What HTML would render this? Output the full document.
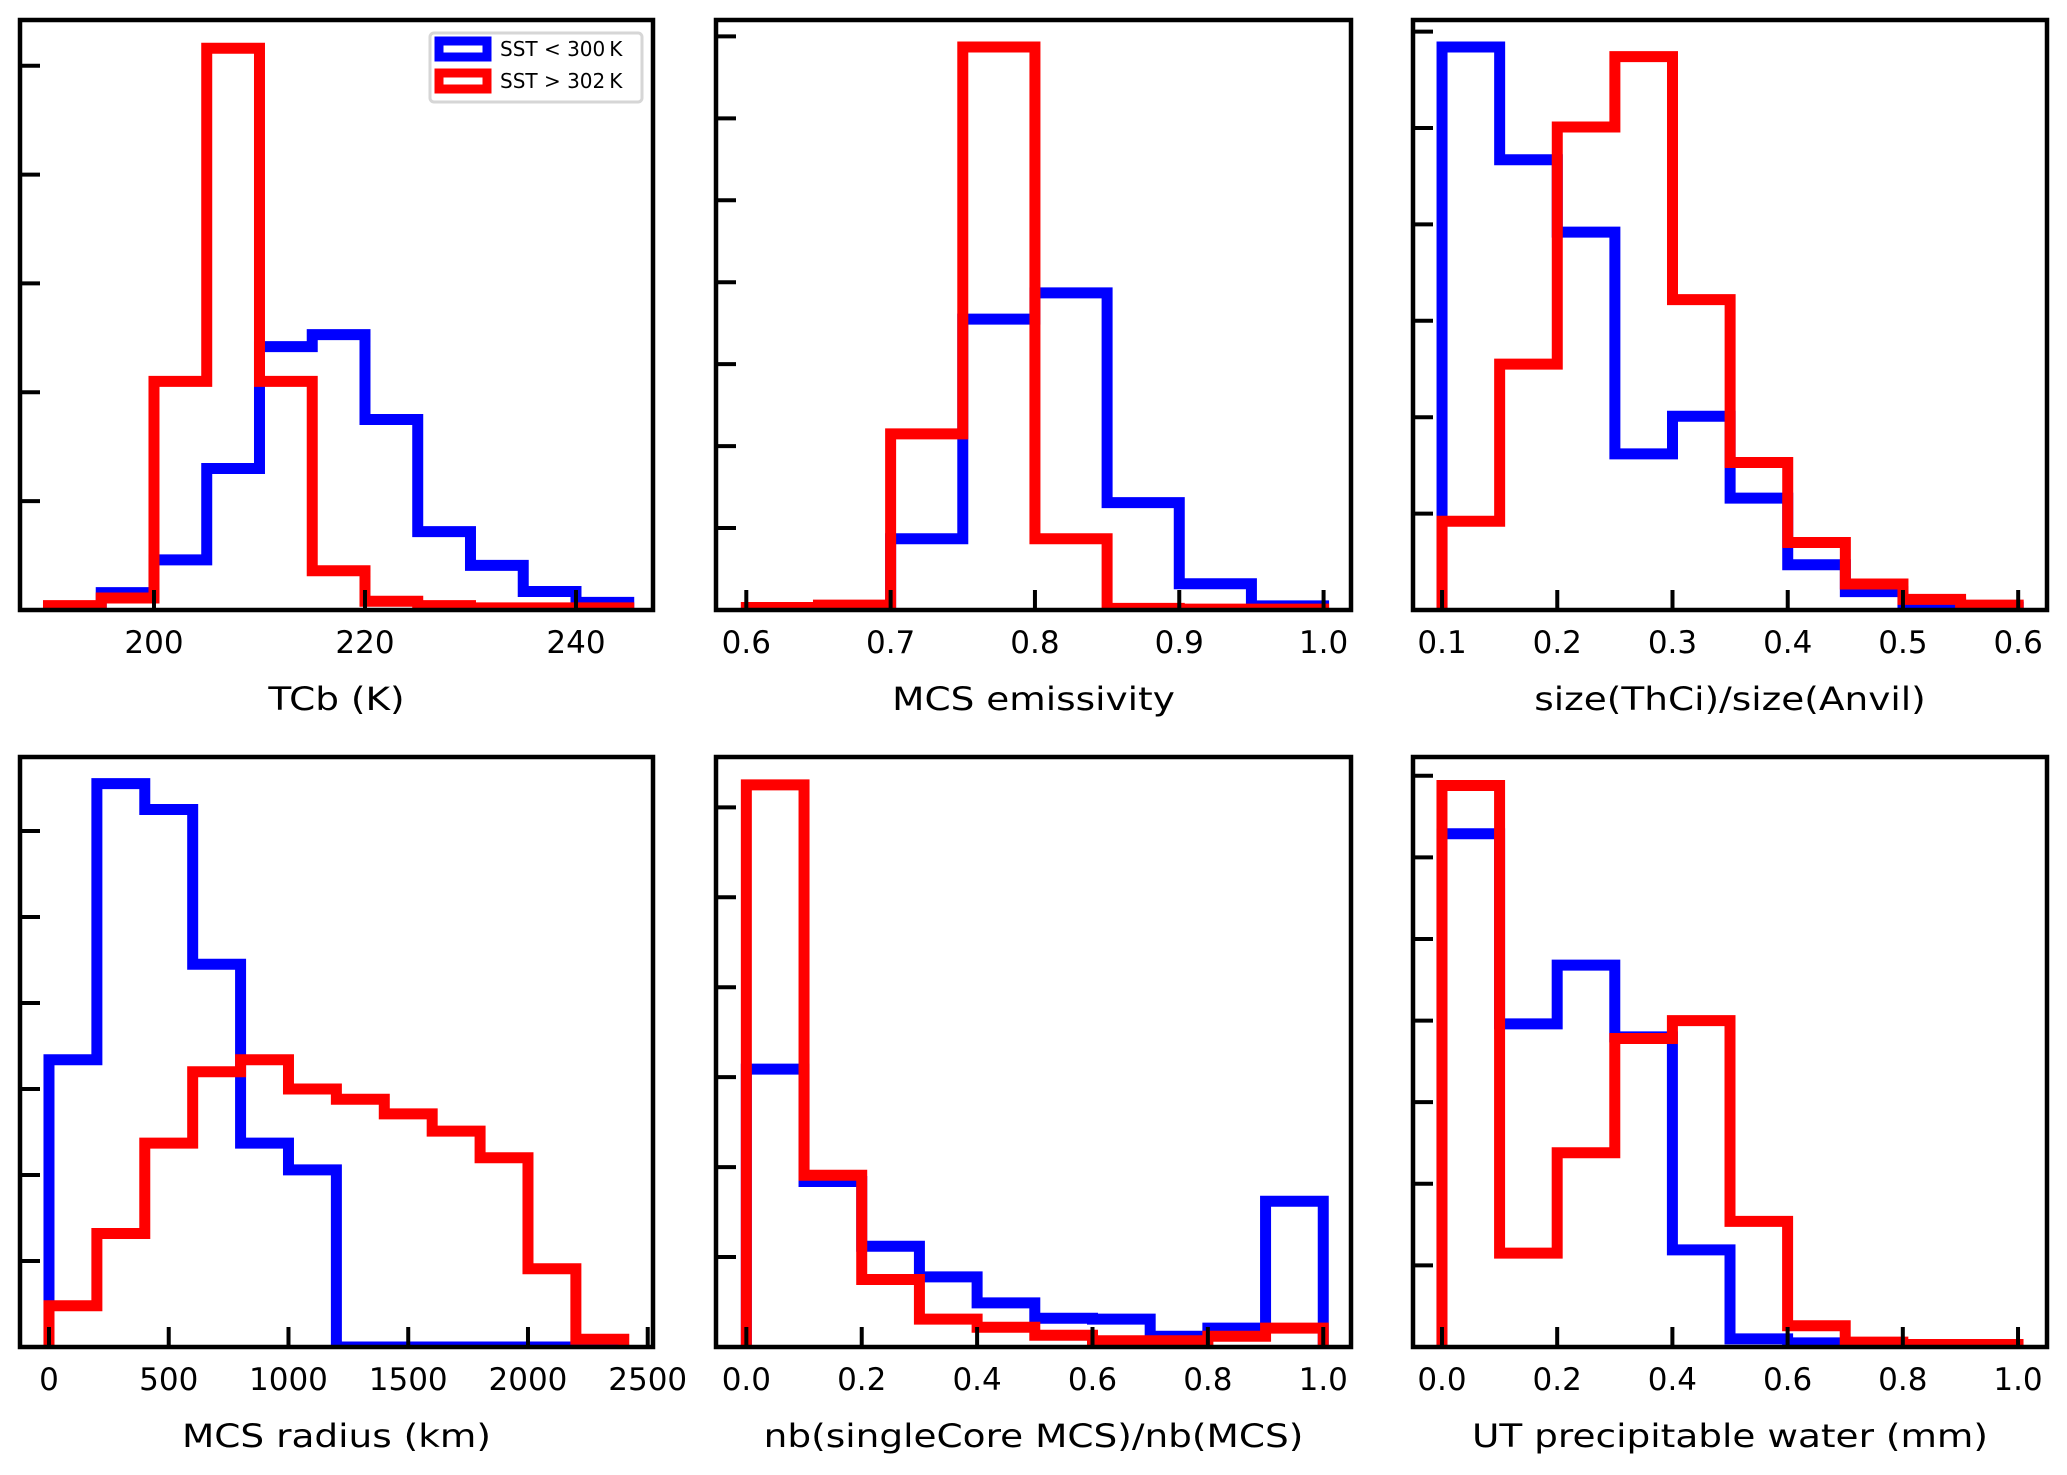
<!DOCTYPE html>
<html><head><meta charset="utf-8"><style>
html,body{margin:0;padding:0;background:#fff;}
svg{display:block;font-family:"DejaVu Sans","Liberation Sans",sans-serif;}
</style></head><body>
<svg id="fig" width="2067" height="1475" viewBox="0 0 2067 1475" xmlns="http://www.w3.org/2000/svg"></svg>
<script>
// ---- data ----
const tcbEdges = [190,195,200,205,210,215,220,225,230,235,240,245];
const tcbBlue = [0,0.16,0.46,1.3,2.42,2.53,1.75,0.72,0.41,0.17,0.07];
const tcbRed = [0.04,0.11,2.1,5.16,2.1,0.36,0.08,0.04,0.02,0.02,0.02];
const tcbTicks = [200,220,240];
const tcbTickLabels = ["200","220","240"];

const emisEdges = [0.6,0.65,0.7,0.75,0.8,0.85,0.9,0.95,1.0];
const emisBlue = [0,0,0.87,3.55,3.87,1.31,0.32,0.05];
const emisRed = [0.03,0.06,2.15,6.87,0.87,0.02,0.01,0.01];
const emisTicks = [0.6,0.7,0.8,0.9,1.0];
const emisTickLabels = ["0.6","0.7","0.8","0.9","1.0"];

const ratioEdges = [0.1,0.15,0.2,0.25,0.3,0.35,0.4,0.45,0.5,0.55,0.6];
const ratioBlue = [5.84,4.67,3.92,1.62,2.01,1.16,0.47,0.19,0.07,0.03];
const ratioRed = [0.92,2.55,5.01,5.74,3.22,1.53,0.7,0.27,0.11,0.05];
const ratioTicks = [0.1,0.2,0.3,0.4,0.5,0.6];
const ratioTickLabels = ["0.1","0.2","0.3","0.4","0.5","0.6"];

const radEdges = [0,200,400,600,800,1000,1200,1400,1600,1800,2000,2200,2400];
const radBlue = [3.34,6.55,6.25,4.45,2.37,2.06,0,0,0,0,0,0];
const radRed = [0.48,1.32,2.37,3.2,3.34,3.0,2.88,2.71,2.51,2.2,0.91,0.09];
const radTicks = [0,500,1000,1500,2000,2500];
const radTickLabels = ["0","500","1000","1500","2000","2500"];

const coreEdges = [0,0.1,0.2,0.3,0.4,0.5,0.6,0.7,0.8,0.9,1.0];
const coreBlue = [3.09,1.84,1.12,0.78,0.49,0.32,0.31,0.12,0.21,1.62];
const coreRed = [6.25,1.91,0.75,0.31,0.22,0.13,0.07,0.07,0.12,0.21];
const unitTicks = [0,0.2,0.4,0.6,0.8,1.0];
const unitTickLabels = ["0.0","0.2","0.4","0.6","0.8","1.0"];

const pwEdges = [0,0.1,0.2,0.3,0.4,0.5,0.6,0.7,0.8,0.9,1.0];
const pwBlue = [6.29,3.96,4.68,3.8,1.19,0.1,0.05,0,0,0];
const pwRed = [6.88,1.15,2.38,3.78,4.0,1.54,0.26,0.06,0.03,0.03];

const panels = [
 {name:"tcb", box:[20,20,653,610], xlim:[187.3,247.3], ylim:5.42, edges:tcbEdges, blue:tcbBlue, red:tcbRed, ticks:tcbTicks, labels:tcbTickLabels, xlabel:"TCb (K)", legend:true},
 {name:"emissivity", box:[716,20,1351,610], xlim:[0.579,1.019], ylim:7.2, edges:emisEdges, blue:emisBlue, red:emisRed, ticks:emisTicks, labels:emisTickLabels, xlabel:"MCS emissivity"},
 {name:"thci-ratio", box:[1413,20,2047,610], xlim:[0.0748,0.625], ylim:6.12, edges:ratioEdges, blue:ratioBlue, red:ratioRed, ticks:ratioTicks, labels:ratioTickLabels, xlabel:"size(ThCi)/size(Anvil)"},
 {name:"radius", box:[20,757,653,1347], xlim:[-121,2522], ylim:6.86, edges:radEdges, blue:radBlue, red:radRed, ticks:radTicks, labels:radTickLabels, xlabel:"MCS radius (km)"},
 {name:"singlecore", box:[716,757,1351,1347], xlim:[-0.0526,1.0481], ylim:6.56, edges:coreEdges, blue:coreBlue, red:coreRed, ticks:unitTicks, labels:unitTickLabels, xlabel:"nb(singleCore MCS)/nb(MCS)"},
 {name:"precip-water", box:[1413,757,2047,1347], xlim:[-0.0503,1.0503], ylim:7.23, edges:pwEdges, blue:pwBlue, red:pwRed, ticks:unitTicks, labels:unitTickLabels, xlabel:"UT precipitable water (mm)"}
];

const NS = "http://www.w3.org/2000/svg";
const svg = document.getElementById("fig");
function mk(tag, attrs, parent){
  const e = document.createElementNS(NS, tag);
  for (const k in attrs) e.setAttribute(k, attrs[k]);
  (parent||svg).appendChild(e);
  return e;
}
const defs = mk("defs", {});

panels.forEach((p, i) => {
  const [x0,y0,x1,y1] = p.box;
  const sx = v => x0 + (v - p.xlim[0]) / (p.xlim[1]-p.xlim[0]) * (x1-x0);
  const sy = v => y1 - v / p.ylim * (y1-y0);
  const g = mk("g", {});
  
  
  const cp = mk("clipPath", {id:"clip"+i}, defs);
  mk("rect", {x:x0, y:y0, width:x1-x0, height:y1-y0}, cp);

  function stepPath(vals){
    let d = "M" + sx(p.edges[0]) + "," + sy(0);
    for (let k=0;k<vals.length;k++){
      d += " L" + sx(p.edges[k]) + "," + sy(vals[k]) + " L" + sx(p.edges[k+1]) + "," + sy(vals[k]);
    }
    d += " L" + sx(p.edges[vals.length]) + "," + sy(0);
    return d;
  }
  const b = mk("path", {d:stepPath(p.blue), fill:"none", stroke:"#0000ff", "stroke-width":11, "stroke-linejoin":"miter", "clip-path":"url(#clip"+i+")"}, g);
  
  
  const r = mk("path", {d:stepPath(p.red), fill:"none", stroke:"#ff0000", "stroke-width":11, "stroke-linejoin":"miter", "clip-path":"url(#clip"+i+")"}, g);
  
  

  for (let v=1; v<p.ylim; v+=1){
    const yy = sy(v);
    const t1 = mk("line", {x1:x0, x2:x0+20, y1:yy, y2:yy, stroke:"#000", "stroke-width":4}, g);
    
    
  }
  p.ticks.forEach((v, k) => {
    const xx = sx(v);
    const t = mk("line", {x1:xx, x2:xx, y1:y1, y2:y1-20, stroke:"#000", "stroke-width":4}, g);
    
    
    const lb = mk("text", {x:xx, y:y1+43, "text-anchor":"middle", "font-size":31, fill:"#000"}, g);
    lb.textContent = p.labels[k];
    
    
  });
  const fr = mk("rect", {x:x0, y:y0, width:x1-x0, height:y1-y0, fill:"none", stroke:"#000", "stroke-width":4.5}, g);
  
  
  const cx = (x0+x1)/2, ty = y1+100;
  const xl = mk("text", {x:0, y:0, "text-anchor":"middle", "font-size":32, fill:"#000", transform:"translate("+cx+","+ty+") scale(1.17,1)"}, g);
  xl.textContent = p.xlabel;
  
  

  if (p.legend){
    const lg = mk("g", {}, g);
    
    
    mk("rect", {x:430, y:33, width:212, height:69, rx:4, fill:"#fff", stroke:"#d6d6d6", "stroke-width":3}, lg);
    const items = [["#0000ff","SST < 300\u2009K",49],["#ff0000","SST > 302\u2009K",81]];
    items.forEach(it => {
      const e = mk("g", {}, lg);
      
      
      mk("rect", {x:439, y:it[2]-8, width:48, height:16, fill:"#fff", stroke:it[0], "stroke-width":9}, e);
      const t = mk("text", {x:500, y:it[2]+7, "font-size":20, fill:"#000"}, e);
      t.textContent = it[1];
    });
  }
});
</script>
</body></html>
